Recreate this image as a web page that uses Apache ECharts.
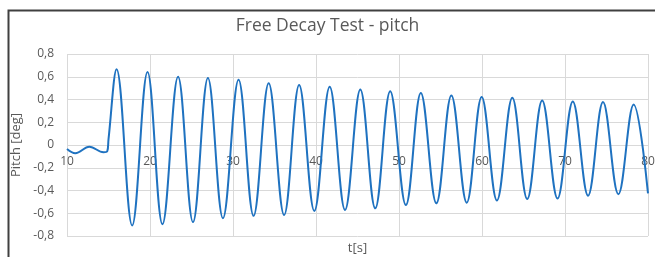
<!DOCTYPE html>
<html>
<head>
<meta charset="utf-8">
<script src="https://cdn.jsdelivr.net/npm/echarts@6/dist/echarts.min.js"></script>
<style>
  html, body { margin: 0; padding: 0; background: #fff; }
  #chart { width: 655px; height: 257px; }
</style>
</head>
<body>
<div id="chart"></div>
<script>
// time stamps [s] of the points (rest wiggle, then peaks/troughs)
var tValues = [10, 11.0, 12.7, 14.4, 14.85, 15.0,
  15.97, 17.85, 19.7, 21.5, 23.38, 25.18, 26.98, 28.79, 30.67, 32.48,
  34.3, 36.16, 37.97, 39.8, 41.65, 43.5, 45.34, 47.14, 48.94, 50.83,
  52.63, 54.5, 56.31, 58.16, 59.96, 61.8, 63.65, 65.45, 67.25, 69.1,
  70.94, 72.78, 74.58, 76.43, 78.27, 80];
// pitch [deg]
var pitchValues = [-0.035, -0.072, -0.015, -0.064, -0.055, 0.05,
  0.667, -0.707, 0.641, -0.696, 0.60, -0.678, 0.589, -0.643, 0.574, -0.623,
  0.542, -0.615, 0.528, -0.58, 0.513, -0.571, 0.487, -0.557, 0.472, -0.528,
  0.458, -0.513, 0.435, -0.507, 0.423, -0.487, 0.415, -0.475, 0.391, -0.47,
  0.383, -0.446, 0.377, -0.432, 0.357, -0.426];

var chart = echarts.init(document.getElementById('chart'));

var points = tValues.map(function (t, i) { return [t, pitchValues[i]]; });

var grey = '#595959';
var gridGrey = '#d9d9d9';

var option = {
  animation: false,
  title: {
    text: 'Free Decay Test - pitch',
    left: 'center',
    top: 12,
    textStyle: { fontFamily: 'Open Sans', fontSize: 17.5, fontWeight: 'normal', color: grey }
  },
  graphic: [{
    type: 'polyline',
    shape: { points: [[8.5, 270], [8.5, 10.5], [660, 10.5]] },
    style: { stroke: '#404040', lineWidth: 2, fill: null },
    silent: true
  }],
  grid: { left: 67, right: 7, top: 54, bottom: 21, outerBoundsMode: 'none', containLabel: false },
  xAxis: {
    type: 'value',
    min: 10,
    max: 80,
    interval: 10,
    name: 't[s]',
    nameLocation: 'middle',
    nameGap: 4,
    nameTextStyle: { fontFamily: 'Open Sans', fontSize: 13, color: grey },
    axisLine: { show: false, onZero: false },
    axisTick: { show: false },
    // labels sit just under the zero line, like the original
    axisLabel: { fontFamily: 'Open Sans', fontSize: 12, color: grey, margin: -80 },
    splitLine: { show: true, lineStyle: { color: gridGrey } }
  },
  yAxis: {
    type: 'value',
    min: -0.8,
    max: 0.8,
    interval: 0.2,
    name: 'Pitch [deg]',
    nameLocation: 'middle',
    nameGap: 36,
    nameTextStyle: { fontFamily: 'Open Sans', fontSize: 13, color: grey },
    axisLine: { show: false, onZero: false },
    axisTick: { show: false },
    axisLabel: {
      fontFamily: 'Open Sans', fontSize: 12, color: grey, margin: 13,
      formatter: function (v) {
        var r = Math.round(v * 10) / 10;
        return r === 0 ? '0' : r.toFixed(1).replace('.', ',');
      }
    },
    splitLine: { show: true, lineStyle: { color: gridGrey } }
  },
  series: [{
    type: 'line',
    data: points,
    smooth: 0.38,
    showSymbol: false,
    lineStyle: { color: '#1f72c0', width: 2 }
  }]
};

chart.setOption(option);
</script>
</body>
</html>
